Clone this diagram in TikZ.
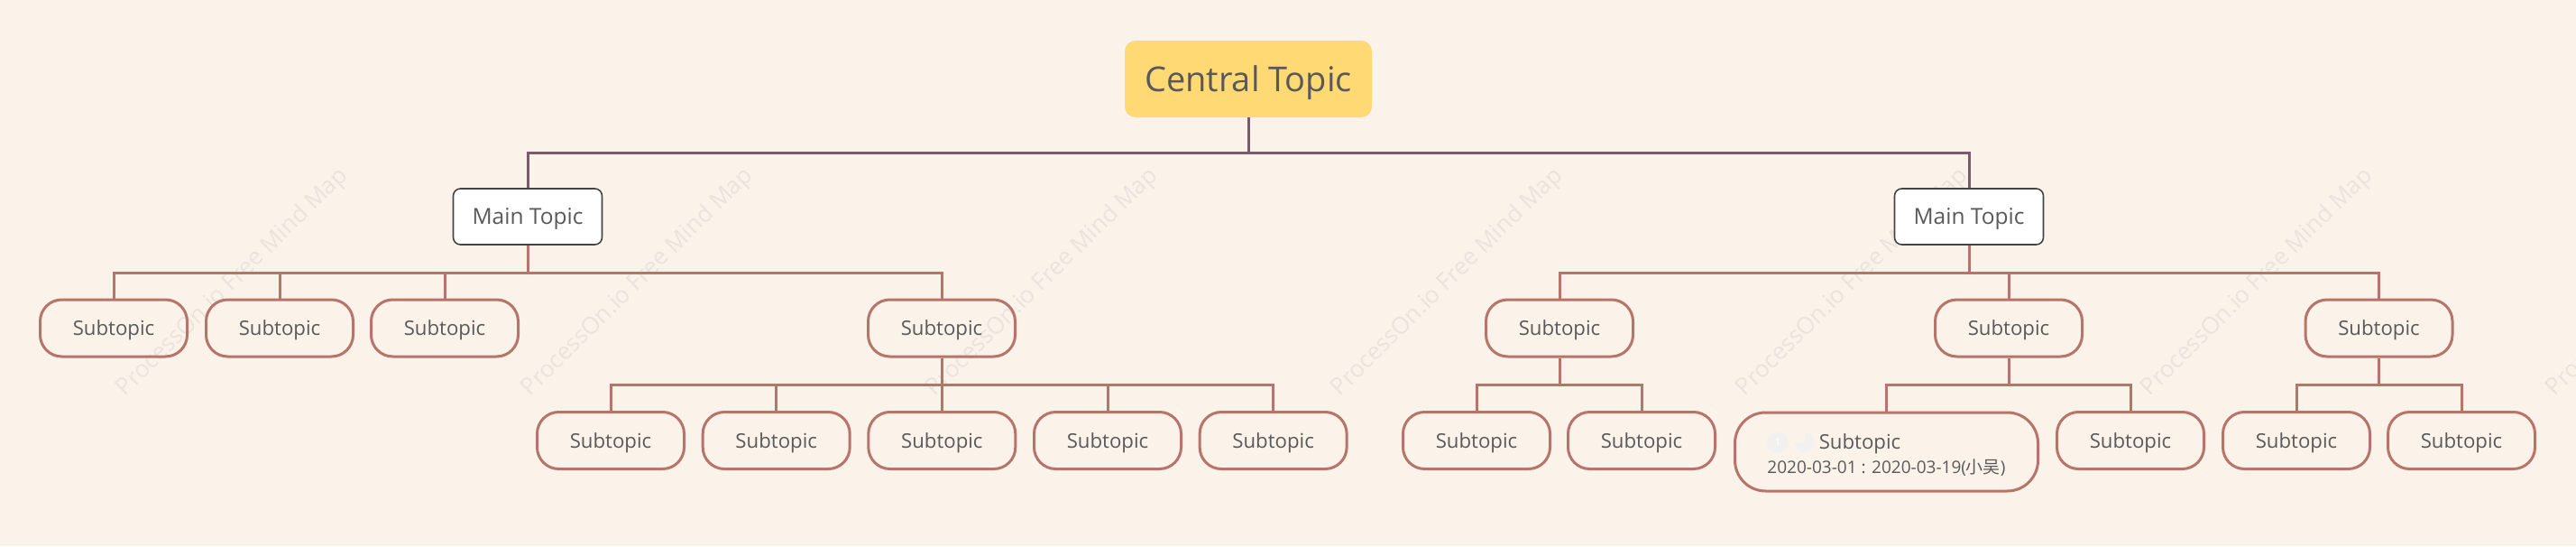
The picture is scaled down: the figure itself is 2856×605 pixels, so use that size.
\documentclass[tikz,border=0pt]{standalone}
\usepackage{fontspec}
\setmainfont{Open Sans}
\newfontfamily\cjk{Noto Sans CJK SC}
\definecolor{bgc}{RGB}{251,242,234}
\definecolor{cyel}{RGB}{255,217,115}
\definecolor{topc}{RGB}{119,93,107}
\definecolor{subc}{RGB}{183,116,106}
\definecolor{txtc}{RGB}{89,89,89}
\definecolor{mainb}{RGB}{68,68,68}
\definecolor{wmc}{RGB}{234,228,223}
\definecolor{iconc}{RGB}{243,241,240}
\tikzset{
  central/.style={fill=cyel, rounded corners=12pt, minimum width=274pt, minimum height=85pt, inner sep=0pt, text depth=0pt, text=txtc, font=\fontsize{38}{44}\selectfont},
  maintopic/.style={fill=white, draw=mainb, line width=1.6pt, rounded corners=8pt, minimum width=165pt, minimum height=62pt, inner sep=0pt, text depth=0pt, text=txtc, font=\fontsize{24.5}{28}\selectfont},
  subtopic/.style={draw=subc, line width=3pt, rounded corners=24pt, minimum width=163pt, minimum height=63pt, inner sep=0pt, text depth=0pt, text=txtc, font=\fontsize{22.2}{26}\selectfont},
  toplink/.style={draw=topc, line width=3pt},
  sublink/.style={draw=subc, line width=3pt},
  wmark/.style={text=wmc, rotate=44.5, font=\fontsize{26}{30}\selectfont, inner sep=0pt},
}
\begin{document}
\begin{tikzpicture}[x=1pt, y=-1pt]
\fill[bgc] (0,0) rectangle (2856,605);
\useasboundingbox (0,0) rectangle (2856,605);
% watermark
\foreach \i in {0,...,6} {
  \node[wmark] (wm\i) at (258+449*\i, 313) {ProcessOn.io Free Mind Map};
}
% central
\node[central] (c) at (1384,87.5) {Central Topic};
% main topics
\node[maintopic] (m1) at (585,240) {Main Topic};
\node[maintopic] (m2) at (2183,240) {Main Topic};
% left subtopics
\node[subtopic] (l1) at (126,363.5) {Subtopic};
\node[subtopic] (l2) at (310,363.5) {Subtopic};
\node[subtopic] (l3) at (493,363.5) {Subtopic};
\node[subtopic] (l4) at (1044,363.5) {Subtopic};
\node[subtopic] (l41) at (677,488) {Subtopic};
\node[subtopic] (l42) at (860.7,488) {Subtopic};
\node[subtopic] (l43) at (1044.3,488) {Subtopic};
\node[subtopic] (l44) at (1228,488) {Subtopic};
\node[subtopic] (l45) at (1411.6,488) {Subtopic};
% right subtopics
\node[subtopic] (r1) at (1729,363.5) {Subtopic};
\node[subtopic] (r2) at (2227,363.5) {Subtopic};
\node[subtopic] (r3) at (2637.5,363.5) {Subtopic};
\node[subtopic] (r11) at (1637,488) {Subtopic};
\node[subtopic] (r12) at (1820,488) {Subtopic};
\node[subtopic, minimum width=336pt, minimum height=87pt, rounded corners=34pt] (r21) at (2091.5,500.5) {};
\node[subtopic] (r22) at (2362,488) {Subtopic};
\node[subtopic] (r31) at (2546,488) {Subtopic};
\node[subtopic] (r32) at (2729,488) {Subtopic};
% big box content
\node[text=txtc, font=\fontsize{22.2}{26}\selectfont, anchor=base, inner sep=0pt] (r21t) at (2062,497) {Subtopic};
\node[text=txtc, font=\fontsize{19}{22}\selectfont, inner sep=0pt] (r21d) at (2091.5,518) {2020-03-01 : 2020-03-19({\cjk 小吴})};
\fill[iconc] (1971,490) circle (12pt);
\node[text=white, font=\fontsize{12}{14}\selectfont, inner sep=0pt] (ic1) at (1971,490) {1};
\fill[iconc] (2001,490) -- (2001,479) arc[start angle=90, end angle=-180, radius=11pt] -- cycle;
% coordinates for buses
\coordinate (b0) at (1384,169);
\coordinate (bl) at (585,302);
\coordinate (br) at (2183,302);
\coordinate (bl4) at (1044,426);
\coordinate (br1) at (1729,426);
\coordinate (br2) at (2227,426);
\coordinate (br3) at (2637.5,426);
% top links
\path[toplink] (c.south) -- (b0);
\path[toplink] (m1.north) |- (b0) -| (m2.north);
% left main
\path[sublink] (m1.south) -- (bl);
\path[sublink] (l1.north) |- (bl) -| (l4.north);
\path[sublink] (l2.north) -- (l2.north |- bl);
\path[sublink] (l3.north) -- (l3.north |- bl);
% l4 children
\path[sublink] (l4.south) -- (bl4);
\path[sublink] (l41.north) |- (bl4) -| (l45.north);
\path[sublink] (l42.north) -- (l42.north |- bl4);
\path[sublink] (l43.north) -- (l43.north |- bl4);
\path[sublink] (l44.north) -- (l44.north |- bl4);
% right main
\path[sublink] (m2.south) -- (br);
\path[sublink] (r1.north) |- (br) -| (r3.north);
\path[sublink] (r2.north) -- (r2.north |- br);
% right children
\path[sublink] (r1.south) -- (br1);
\path[sublink] (r11.north) |- (br1) -| (r12.north);
\path[sublink] (r2.south) -- (br2);
\path[sublink] (r21.north) |- (br2) -| (r22.north);
\path[sublink] (r3.south) -- (br3);
\path[sublink] (r31.north) |- (br3) -| (r32.north);
\end{tikzpicture}
\end{document}
